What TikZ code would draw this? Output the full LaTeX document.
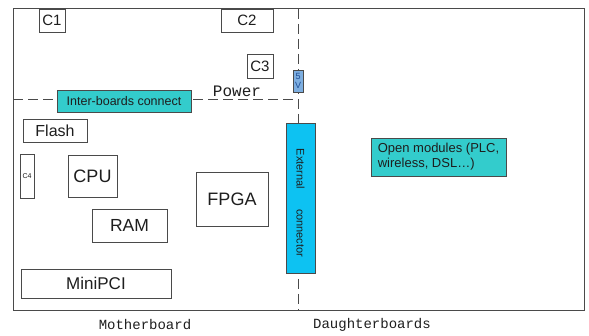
\documentclass[tikz,border=0pt]{standalone}
\usepackage{fontspec}
\setmainfont{Liberation Sans}
\newfontfamily\courier{Liberation Mono}
\usetikzlibrary{positioning}
\definecolor{edge}{HTML}{4A4A4A}
\definecolor{ink}{HTML}{1E1E1E}
\definecolor{busteal}{HTML}{33CCCC}
\definecolor{extcyan}{HTML}{0DC2F2}
\definecolor{volt}{HTML}{7DAEE0}
\definecolor{voltink}{HTML}{1F4E96}
\newcommand{\sz}[1]{\fontsize{#1pt}{#1pt}\selectfont}
\tikzset{
  frame/.style={draw=edge, line width=1pt},
  split/.style={draw=edge, line width=1pt, dash pattern=on 10pt off 5pt},
  part/.style={draw=edge, line width=0.8pt, fill=white, inner sep=0pt,
    outer sep=0pt, anchor=north west, text=ink, align=center},
  bus/.style={part, fill=busteal},
  ext/.style={part, fill=extcyan},
  lab/.style={font=\courier\sz{14}, text=ink},
}
\begin{document}
\begin{tikzpicture}[x=1pt, y=-1pt, font=\sz{16}]
  \useasboundingbox (0,0) rectangle (589,336);
  \draw[frame] (13,9) rectangle (584,311);
  % dashed split lines
  \coordinate (splitT) at (298,9);
  \coordinate (splitB) at (298,311);
  \coordinate (busL) at (13,100);
  \coordinate (busR) at (298,100);
  \draw[split] (splitT) -- (splitB);
  \draw[split] (busL) -- (busR);
  % motherboard parts
  \node[part, minimum width=26, minimum height=23, font=\sz{15}] (c1) at (39,9) {C1};
  \node[part, minimum width=52, minimum height=23, font=\sz{15}] (c2) at (221,9) {C2};
  \node[part, minimum width=26, minimum height=24, font=\sz{15}] (c3) at (247,54) {C3};
  \node[part, fill=volt, minimum width=10, minimum height=22, font=\sz{9},
    text=voltink] (volt) at (293,70) {5\\V};
  \node[bus, minimum width=134, minimum height=22, font=\sz{12.5}] (inter) at (57,90)
    {Inter-boards connect};
  \node[lab, font=\courier\sz{16}] (power) at (237,91) {Power};
  \node[part, minimum width=64, minimum height=23] (flash) at (23,119) {Flash};
  \node[part, minimum width=14, minimum height=44, font=\sz{7}] (c4) at (20,154) {C4};
  \node[part, minimum width=49, minimum height=42, font=\sz{18}] (cpu) at (68,155) {CPU};
  \node[part, minimum width=75, minimum height=33, font=\sz{17.5}] (ram) at (92,209) {RAM};
  \node[part, minimum width=72, minimum height=54, font=\sz{18}] (fpga) at (196,172) {FPGA};
  \node[part, minimum width=150, minimum height=29, font=\sz{17}] (minipci) at (21,269) {MiniPCI};
  % connector and daughterboard side
  \node[ext, minimum width=29, minimum height=150] (extconn) at (286,123) {};
  \node[font=\sz{11}, text=ink, rotate=-90] at ([yshift=-5pt]extconn.center)
    {External\hspace{20pt}connector};
  \node[bus, minimum width=135, minimum height=38, font=\sz{13}, align=left]
    (open) at (371,138) {Open modules (PLC,\\[2pt]wireless, DSL\dots)};
  % captions
  \node[lab] (mother) at (145,325) {Motherboard};
  \node[lab] (daughter) at (372,325) {Daughterboards};
\end{tikzpicture}
\end{document}
